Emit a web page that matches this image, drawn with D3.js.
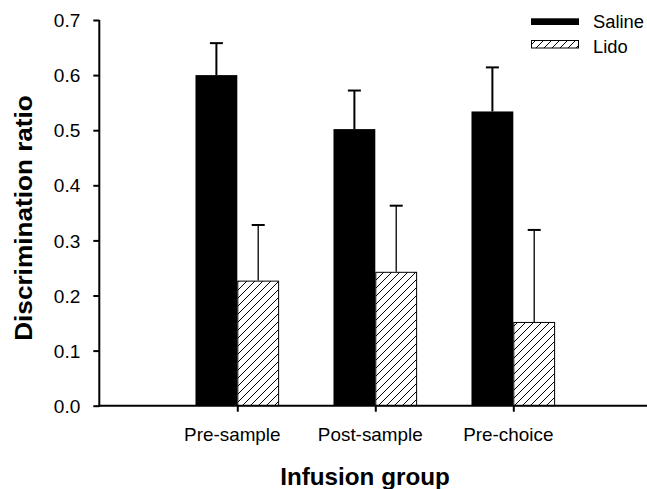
<!DOCTYPE html>
<html><head><meta charset="utf-8">
<script src="https://cdn.jsdelivr.net/npm/d3@7"></script>
<style>body{margin:0;background:#fff;} svg{display:block;} text{font-family:"Liberation Sans",Arial,sans-serif;fill:#000;}</style>
</head><body>
<svg id="c" width="647" height="489"></svg>
<script>
const categories = ["Pre-sample", "Post-sample", "Pre-choice"];
const seriesNames = ["Saline", "Lido"];
const salineMean = [0.600, 0.502, 0.534];
const salineErr  = [0.058, 0.070, 0.080];
const lidoMean   = [0.227, 0.243, 0.152];
const lidoErr    = [0.101, 0.120, 0.167];
const yTicks = [0, 0.1, 0.2, 0.3, 0.4, 0.5, 0.6, 0.7];

const svg = d3.select("#c");
function fitText(sel, stretch){ sel.each(function(){ const w=this.getComputedTextLength(); d3.select(this).attr("textLength", w*stretch).attr("lengthAdjust","spacingAndGlyphs"); }); }

const defs = svg.append("defs");
const pat = defs.append("pattern").attr("id","hatch").attr("patternUnits","userSpaceOnUse").attr("width",8).attr("height",8);
pat.append("rect").attr("width",8).attr("height",8).attr("fill","#fff");
pat.append("path").attr("d","M0,8 L8,0 M-2,2 L2,-2 M6,10 L10,6").attr("stroke","#000").attr("stroke-width",1);

const x = d3.scaleLinear().domain([0,4]).range([99.3, 651.3]);
const y = d3.scaleLinear().domain([0,0.7]).range([405.7, 20]);
const bw = x(0.303) - x(0);

// bars
const g = svg.append("g");
categories.forEach((c,i)=>{
  const cx = x(i+1);
  g.append("rect").attr("x", cx-bw).attr("y", y(salineMean[i])).attr("width", bw).attr("height", y(0)-y(salineMean[i])).attr("fill","#000");
  g.append("rect").attr("x", cx+0.5).attr("y", y(lidoMean[i])+0.5).attr("width", bw-1).attr("height", y(0)-y(lidoMean[i])-0.5).attr("fill","url(#hatch)").attr("stroke","#000").attr("stroke-width",1);
  const sx = cx - bw/2;
  g.append("line").attr("x1",sx).attr("x2",sx).attr("y1",y(salineMean[i])).attr("y2",y(salineMean[i]+salineErr[i])).attr("stroke","#000").attr("stroke-width",2);
  g.append("line").attr("x1",sx-6.5).attr("x2",sx+6.5).attr("y1",y(salineMean[i]+salineErr[i])).attr("y2",y(salineMean[i]+salineErr[i])).attr("stroke","#000").attr("stroke-width",2);
  const lx = cx + bw/2;
  g.append("line").attr("x1",lx).attr("x2",lx).attr("y1",y(lidoMean[i])).attr("y2",y(lidoMean[i]+lidoErr[i])).attr("stroke","#000").attr("stroke-width",1.3);
  g.append("line").attr("x1",lx-6.5).attr("x2",lx+6.5).attr("y1",y(lidoMean[i]+lidoErr[i])).attr("y2",y(lidoMean[i]+lidoErr[i])).attr("stroke","#000").attr("stroke-width",2);
});

// y axis
const ya = svg.append("g").attr("transform","translate(99.3,0)")
  .call(d3.axisLeft(y).tickValues(yTicks).tickFormat(d3.format(".1f")).tickSize(6).tickSizeOuter(0));
ya.select(".domain").attr("stroke-width",2).attr("d", `M0,${y(0.7)}V${y(0)+1}`);
ya.selectAll(".tick line").attr("stroke-width",2);
ya.selectAll(".tick text").attr("x",-19).attr("dy","0.36em").style("font-size","18.5px").call(fitText, 1.03);

// x axis
const xa = svg.append("g").attr("transform",`translate(0,${y(0)})`)
  .call(d3.axisBottom(x).tickValues([1,2,3]).tickFormat(d=>categories[d-1]).tickSize(6).tickSizeOuter(0));
xa.select(".domain").attr("stroke-width",2).attr("d", `M98.3,0H647`);
xa.selectAll(".tick line").attr("stroke-width",2);
xa.selectAll(".tick text").attr("x",-5.5).attr("y",22).attr("dy","0.71em").style("font-size","18.5px").call(fitText, 1.02);
xa.selectAll("text").attr("fill","#000");

// titles
svg.append("text").attr("x",365).attr("y",485).attr("text-anchor","middle").style("font-size","24px").style("font-weight","bold").text("Infusion group").call(fitText, 1.01);
svg.append("text").attr("transform","translate(32,218) rotate(-90)").attr("text-anchor","middle").style("font-size","24px").style("font-weight","bold").text("Discrimination ratio").call(fitText, 1.09);

// legend
const leg = svg.append("g");
leg.append("rect").attr("x",531).attr("y",18.3).attr("width",48).attr("height",6.7).attr("fill","#000");
leg.append("rect").attr("x",531.5).attr("y",40.5).attr("width",47).attr("height",7.5).attr("fill","url(#hatch)").attr("stroke","#000").attr("stroke-width",1);
leg.append("text").attr("x",593).attr("y",28).style("font-size","18px").text(seriesNames[0]).call(fitText, 1.02);
leg.append("text").attr("x",593).attr("y",53).style("font-size","18px").text(seriesNames[1]).call(fitText, 1.02);
</script>
</body></html>
